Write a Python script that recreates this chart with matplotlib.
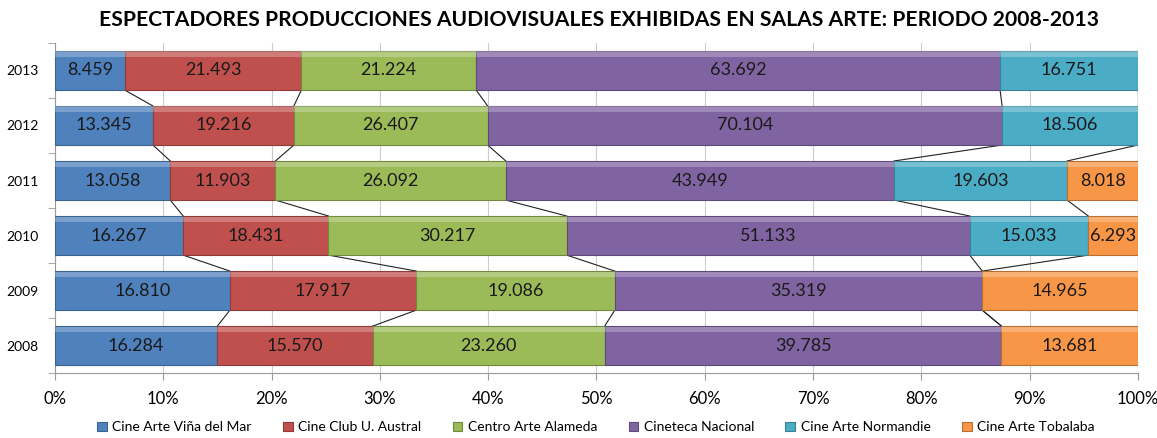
import matplotlib.pyplot as plt
import numpy as np

plt.rcParams['font.family'] = ['Lato', 'DejaVu Sans']

years = ['2008', '2009', '2010', '2011', '2012', '2013']
series = ['Cine Arte Viña del Mar', 'Cine Club U. Austral', 'Centro Arte Alameda',
          'Cineteca Nacional', 'Cine Arte Normandie', 'Cine Arte Tobalaba']
vina = [16284, 16810, 16267, 13058, 13345, 8459]
austral = [15570, 17917, 18431, 11903, 19216, 21493]
alameda = [23260, 19086, 30217, 26092, 26407, 21224]
cineteca = [39785, 35319, 51133, 43949, 70104, 63692]
normandie = [0, 0, 15033, 19603, 18506, 16751]
tobalaba = [13681, 14965, 6293, 8018, 0, 0]
colors = ['#4F81BD', '#C0504D', '#9BBB59', '#8064A2', '#4BACC6', '#F79646']
edges = ['#3A6390', '#8E3B39', '#71893F', '#5E4A78', '#3A8196', '#B86F33']

data = np.array([vina, austral, alameda, cineteca, normandie, tobalaba], dtype=float)
pct = data / data.sum(axis=0) * 100
cum = np.cumsum(pct, axis=0)
y = np.arange(len(years))
h = 0.71

fig = plt.figure(figsize=(11.57, 4.38), dpi=100)
ax = fig.add_axes([0.0475, 0.148, 0.936, 0.754])

for i in range(len(series)):
    left = cum[i] - pct[i]
    ax.barh(y, pct[i], left=left, height=h, color=colors[i], edgecolor=edges[i],
            linewidth=0.8, label=series[i], zorder=3)
    # lighter highlight band on top of each bar
    ax.barh(y + h / 2 - 0.06, pct[i], left=left, height=0.1, color='white',
            alpha=0.25, linewidth=0, zorder=4)
    for j in range(len(years)):
        if data[i, j] > 0:
            lbl = f'{int(data[i, j]):,}'.replace(',', '.')
            ax.text(left[j] + pct[i, j] / 2, y[j], lbl, ha='center', va='center',
                    fontsize=13, color='#1a1a1a', zorder=5)

# series lines between adjacent bars
for i in range(len(series)):
    for j in range(len(years) - 1):
        ax.plot([cum[i, j], cum[i, j + 1]], [y[j] + h / 2, y[j + 1] - h / 2],
                color='#222222', lw=0.8, zorder=2)

ax.set_xlim(0, 100)
ax.set_ylim(-0.5, 5.5)
ax.set_xticks(np.arange(0, 101, 10))
ax.set_xticklabels([f'{v}%' for v in range(0, 101, 10)], fontsize=12)
ax.set_yticks(y)
ax.set_yticklabels(years, fontsize=10)
ax.set_yticks(np.arange(-0.5, 6, 1), minor=True)
ax.tick_params(axis='y', which='major', length=0, pad=12)
ax.tick_params(axis='y', which='minor', length=5, color='#999999')
ax.tick_params(axis='x', length=5, color='#999999', pad=8)
ax.grid(axis='x', color='#cccccc', lw=0.8, zorder=0)
for s in ['top', 'right']:
    ax.spines[s].set_visible(False)
for s in ['left', 'bottom']:
    ax.spines[s].set_color('#999999')

fig.suptitle('ESPECTADORES PRODUCCIONES AUDIOVISUALES EXHIBIDAS EN SALAS ARTE: PERIODO 2008-2013',
             fontsize=15.2, fontweight='bold', y=0.978, x=0.518)
fig.legend(loc='lower center', ncol=6, frameon=False, fontsize=10,
           bbox_to_anchor=(0.515, -0.018), handlelength=0.7, handleheight=0.7,
           columnspacing=2.25, handletextpad=0.4)

fig.savefig('out.png', dpi=100)
